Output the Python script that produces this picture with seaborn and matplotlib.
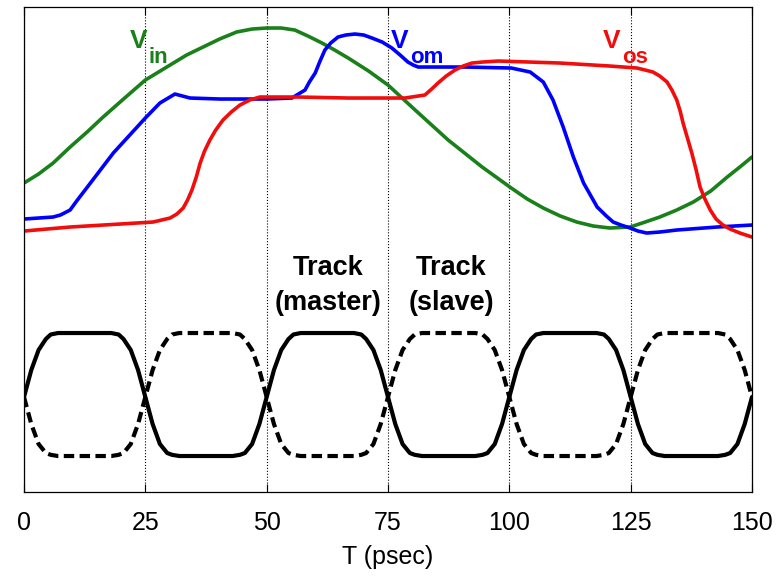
import pandas as pd
import matplotlib.pyplot as plt
import seaborn as sns

plt.switch_backend("Agg")

# time axis in psec, voltages in arbitrary units
t_vin = [0, 3, 6, 9.5, 13, 16.3, 20.5, 25, 30.1, 33.5, 36.9, 40.3, 43.8, 47,
         50, 53, 55.8, 58.5, 61.4, 64, 66.8, 71, 75, 80.6, 87.4, 94.4, 100.4,
         103.7, 107, 110.5, 113.9, 117.3, 120.7, 124.9, 128, 131, 134.5,
         137.9, 141.5, 144.9, 147.5, 150]
vin = [3.09, 3.18, 3.29, 3.45, 3.60, 3.75, 3.93, 4.12, 4.27, 4.37, 4.45, 4.53,
       4.60, 4.63, 4.64, 4.64, 4.62, 4.56, 4.49, 4.42, 4.34, 4.21, 4.07, 3.82,
       3.52, 3.25, 3.04, 2.93, 2.84, 2.76, 2.70, 2.66, 2.64, 2.65, 2.70, 2.75,
       2.82, 2.90, 3.01, 3.15, 3.25, 3.35]

t_vom = [0, 6, 7.5, 9.5, 11, 12.9, 18.4, 25, 28, 31.1, 34.2, 40.4, 50,
         55.2, 57.9, 58.8, 60, 61, 62, 63.2, 64.7, 66.3, 68.2, 70, 71.7, 73.8,
         75.8, 77.5, 79.1, 80.2, 81.2, 90.9, 100.4,
         104.3, 107, 109, 111.1, 113.2, 115.3, 118.1, 120, 121.4, 123, 124.9,
         126.5, 128.3, 131, 134.5, 142.8, 150]
vom = [2.73, 2.75, 2.77, 2.82, 2.92, 3.04, 3.39, 3.74, 3.89, 3.98, 3.94, 3.93,
       3.93, 3.94, 4.02, 4.10, 4.19, 4.31, 4.42, 4.49, 4.55, 4.57, 4.58, 4.57,
       4.54, 4.50, 4.44, 4.37, 4.30, 4.27, 4.25, 4.25, 4.24,
       4.20, 4.10, 3.92, 3.65, 3.35, 3.09, 2.85, 2.76, 2.70, 2.67, 2.64,
       2.61, 2.59, 2.60, 2.62, 2.65, 2.67]

t_vos = [0, 9.5, 19.8, 26.6, 30.1, 31.5, 32.8, 33.7, 34.6, 35.5, 36.3, 37.2,
         38.3, 39.5, 41, 42.7, 44.5, 46.5, 48.6,
         56.5, 66.8, 78.5, 82.6, 84, 85.3, 87, 88.8, 90.5, 92.3, 94.5, 97.7,
         110.4, 120.7, 126.3, 128, 129.6, 131, 132.5, 133.5, 134.5, 135.2,
         135.8, 136.7, 137.6, 138.5, 139.3, 140.3, 141.4, 142.6, 144, 145.5,
         147.5, 150]
vos = [2.61, 2.65, 2.68, 2.70, 2.74, 2.78, 2.84, 2.92, 3.02, 3.15, 3.29, 3.41,
       3.52, 3.62, 3.72, 3.80, 3.87, 3.92, 3.95,
       3.95, 3.94, 3.94, 3.97, 4.03, 4.09, 4.16, 4.22, 4.26, 4.29, 4.30, 4.31,
       4.29, 4.26, 4.24, 4.22, 4.20, 4.16, 4.10, 4.02, 3.92, 3.81,
       3.69, 3.54, 3.39, 3.22, 3.05, 2.93, 2.82, 2.73, 2.67, 2.63,
       2.59, 2.55]

# clock waveforms (solid = master clock, dashed = its complement)
clk_t = [0, 1.5, 3, 4.5, 5.5, 7, 18, 19.5, 20.5, 22, 23.5,
         25, 26.5, 28, 29.5, 30.5, 32, 43, 44.5, 45.5, 47, 48.5,
         50, 51.5, 53, 54.5, 55.5, 57, 68, 69.5, 70.5, 72, 73.5,
         75, 76.5, 78, 79.5, 80.5, 82, 93, 94.5, 95.5, 97, 98.5,
         100, 101.5, 103, 104.5, 105.5, 107, 118, 119.5, 120.5, 122, 123.5,
         125, 126.5, 128, 129.5, 130.5, 132, 143, 144.5, 145.5, 147, 148.5,
         150]
clk_solid = [0.95, 1.22, 1.42, 1.53, 1.575, 1.59, 1.59, 1.575, 1.53, 1.42, 1.22,
             0.95, 0.68, 0.48, 0.39, 0.372, 0.36, 0.36, 0.372, 0.39, 0.48, 0.68,
             0.95, 1.22, 1.42, 1.53, 1.575, 1.59, 1.59, 1.575, 1.53, 1.42, 1.22,
             0.95, 0.68, 0.48, 0.39, 0.372, 0.36, 0.36, 0.372, 0.39, 0.48, 0.68,
             0.95, 1.22, 1.42, 1.53, 1.575, 1.59, 1.59, 1.575, 1.53, 1.42, 1.22,
             0.95, 0.68, 0.48, 0.39, 0.372, 0.36, 0.36, 0.372, 0.39, 0.48, 0.68,
             0.95]
clk_dash = [0.95, 0.68, 0.48, 0.39, 0.372, 0.36, 0.36, 0.372, 0.39, 0.48, 0.68,
            0.95, 1.22, 1.42, 1.53, 1.575, 1.59, 1.59, 1.575, 1.53, 1.42, 1.22,
            0.95, 0.68, 0.48, 0.39, 0.372, 0.36, 0.36, 0.372, 0.39, 0.48, 0.68,
            0.95, 1.22, 1.42, 1.53, 1.575, 1.59, 1.59, 1.575, 1.53, 1.42, 1.22,
            0.95, 0.68, 0.48, 0.39, 0.372, 0.36, 0.36, 0.372, 0.39, 0.48, 0.68,
            0.95, 1.22, 1.42, 1.53, 1.575, 1.59, 1.59, 1.575, 1.53, 1.42, 1.22,
            0.95]

xticks = [0, 25, 50, 75, 100, 125, 150]

sns.set_theme(style="white")
plt.rcParams["font.family"] = ["Liberation Sans", "DejaVu Sans"]

fig = plt.figure(figsize=(7.77, 5.76), dpi=100)
ax = fig.add_axes([0.0309, 0.1458, 0.9369, 0.842])

green = (0.1, 0.5, 0.1)
blue = (0.0, 0.0, 1.0)
red = (0.95, 0.05, 0.05)

sns.lineplot(x=t_vin, y=vin, ax=ax, color=green, lw=2.6)
sns.lineplot(x=t_vom, y=vom, ax=ax, color=blue, lw=2.6)
sns.lineplot(x=t_vos, y=vos, ax=ax, color=red, lw=2.6)

sns.lineplot(x=clk_t, y=clk_solid, ax=ax, color="black", lw=3)
sns.lineplot(x=clk_t, y=clk_dash, ax=ax, color="black", lw=3)
ax.lines[-1].set_dashes((2.5, 1.3))

# signal labels: V + subscript
big = dict(fontsize=19, fontweight="bold", ha="left", va="baseline")
sub = dict(fontsize=16, fontweight="bold", ha="left", va="baseline")
ax.text(21.8, 4.44, "V", color=green, **big)
ax.text(25.6, 4.29, "in", color=green, **sub)
ax.text(75.6, 4.44, "V", color=blue, **big)
ax.text(79.5, 4.29, "om", color=blue, **sub)
ax.text(119.3, 4.44, "V", color=red, **big)
ax.text(123.2, 4.29, "os", color=red, **sub)

# phase annotations
ann = dict(fontsize=19.5, fontweight="bold", color="black", ha="center", va="center")
ax.text(62.6, 2.24, "Track", **ann)
ax.text(62.6, 1.89, "(master)", **ann)
ax.text(88.0, 2.24, "Track", **ann)
ax.text(88.0, 1.89, "(slave)", **ann)

ax.set_xlim(0, 150)
ax.set_ylim(0, 4.85)
ax.set_xticks(xticks)
ax.set_yticks([])
ax.grid(axis="x", linestyle=":", color="black", lw=0.8)
ax.tick_params(axis="x", direction="in", top=True, bottom=True, length=6,
               width=0.8, color="black", labelsize=18, pad=14, labelcolor="black")
ax.set_xlabel("T (psec)", fontsize=18, color="black", labelpad=7)
ax.set_ylabel("")
for s in ax.spines.values():
    s.set_color("black")
    s.set_linewidth(0.9)

fig.savefig("out.png", dpi=100)
plt.close(fig)
